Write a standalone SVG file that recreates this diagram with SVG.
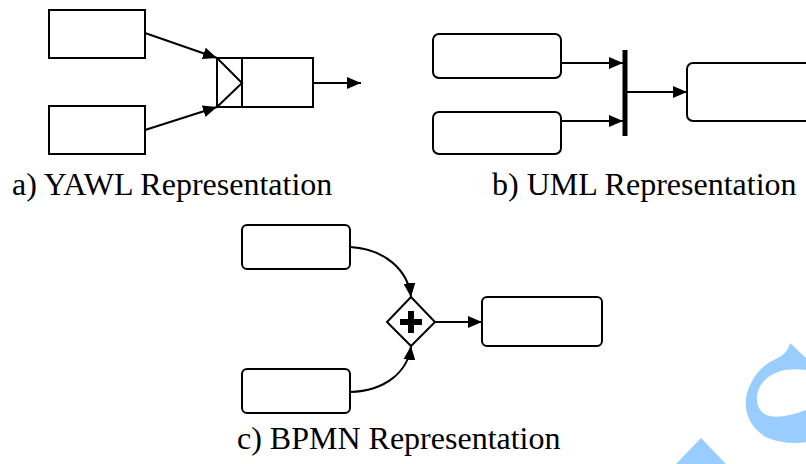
<svg xmlns="http://www.w3.org/2000/svg" width="806" height="464" viewBox="0 0 806 464">
<style>
.box{fill:#fff;stroke:#000;stroke-width:2}
.edge{fill:none;stroke:#000;stroke-width:2}
.lbl{font-family:"Liberation Serif","Times New Roman",serif;font-size:32px;fill:#000}
.wm{fill:#99ccff;stroke:none}
</style>
<defs>
<marker id="ah" viewBox="0 0 14 12" refX="14" refY="6" markerWidth="14" markerHeight="12" markerUnits="userSpaceOnUse" orient="auto">
<path d="M0,0 L14,6 L0,12 z" fill="#000"/>
</marker>
</defs>
<rect width="806" height="464" fill="#fff"/>
<g id="watermark">
<path class="wm" d="M790,343 L806,358 L806,370 C790,368 775,370 765,380 C755,390 754,405 763,413 C772,420 790,416 806,410 L806,442 C795,444 780,443 768,438 C752,430 744,415 746,398 C749,382 760,366 774,360 C782,356 788,352 790,343 z"/>
<path class="wm" d="M701,438 L726,464 L676,464 z"/>
</g>
<g id="connectors">
<path class="edge" d="M145,33 L217,58" marker-end="url(#ah)"/>
<path class="edge" d="M145,130 L217,107" marker-end="url(#ah)"/>
<path class="edge" d="M313,83 L361,83" marker-end="url(#ah)"/>
<path class="edge" d="M561,63 L623,63" marker-end="url(#ah)"/>
<path class="edge" d="M561,121 L623,121" marker-end="url(#ah)"/>
<path class="edge" d="M627,92 L687,92" marker-end="url(#ah)"/>
<path class="edge" d="M350,247 C385,249 408,270 411,297" marker-end="url(#ah)"/>
<path class="edge" d="M350,392 C385,391 408,372 411,346" marker-end="url(#ah)"/>
<path class="edge" d="M435,322 L482,322" marker-end="url(#ah)"/>
</g>
<g id="a-task1"><rect class="box" x="49" y="10" width="96" height="48"/></g>
<g id="a-task2"><rect class="box" x="49" y="106" width="96" height="48"/></g>
<g id="a-join">
<rect class="box" x="217" y="58" width="96" height="49"/>
<line class="edge" x1="242" y1="58" x2="242" y2="107"/>
<path class="edge" d="M217,58 L242,83 L217,107"/>
</g>
<text class="lbl" x="12" y="195">a) YAWL Representation</text>
<g id="b-task1"><rect class="box" x="433" y="34" width="128" height="44" rx="6"/></g>
<g id="b-task2"><rect class="box" x="433" y="112" width="128" height="42" rx="6"/></g>
<g id="b-bar"><rect x="622.5" y="50" width="5" height="86" fill="#000"/></g>
<g id="b-task3"><rect class="box" x="687" y="63" width="140" height="58" rx="6"/></g>
<text class="lbl" x="492" y="195">b) UML Representation</text>
<g id="c-task1"><rect class="box" x="242" y="225" width="108" height="44" rx="5"/></g>
<g id="c-task2"><rect class="box" x="242" y="369" width="108" height="44" rx="5"/></g>
<g id="c-gateway">
<path class="box" d="M411,297 L435,322 L411,346 L387,322 z"/>
<rect x="400" y="319" width="22" height="6" fill="#000"/>
<rect x="408" y="311" width="6" height="22" fill="#000"/>
</g>
<g id="c-task3"><rect class="box" x="482" y="297" width="120" height="49" rx="5"/></g>
<text class="lbl" x="237" y="449">c) BPMN Representation</text>
</svg>
